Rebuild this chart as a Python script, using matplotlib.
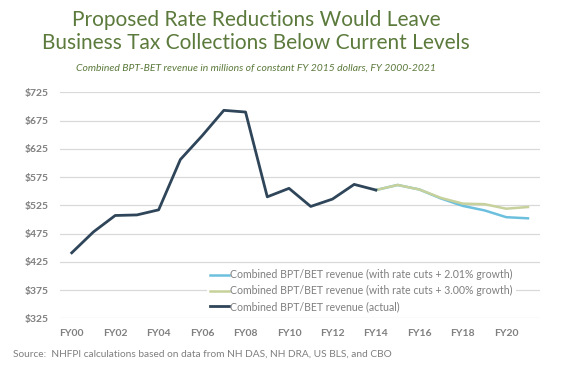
import matplotlib.pyplot as plt
import matplotlib

matplotlib.rcParams.update({'font.family': ['Lato', 'DejaVu Sans']})

years = list(range(2000, 2022))
tick_labels = ['FY00', 'FY02', 'FY04', 'FY06', 'FY08', 'FY10', 'FY12', 'FY14', 'FY16', 'FY18', 'FY20']

actual_years = list(range(2000, 2015))
actual = [441, 478, 507, 508, 517, 606, 648, 693, 690, 540, 555, 523, 536, 562, 552]

proj_years = list(range(2014, 2022))
growth_201 = [552, 561, 553, 537, 524, 516, 504, 502]
growth_300 = [552, 561, 553, 538, 528, 527, 519, 522]

c_actual = '#2f4559'
c_blue = '#6cc0de'
c_green = '#c6d19c'
c_title = '#5b7a3c'
c_text = '#7f7f7f'

fig = plt.figure(figsize=(5.75, 3.75), dpi=100)
ax = fig.add_axes([0.104, 0.151, 0.835, 0.603])

ax.plot(proj_years, growth_201, color=c_blue, lw=1.8,
        label='Combined BPT/BET revenue (with rate cuts + 2.01% growth)')
ax.plot(proj_years, growth_300, color=c_green, lw=1.8,
        label='Combined BPT/BET revenue (with rate cuts + 3.00% growth)')
ax.plot(actual_years, actual, color=c_actual, lw=2,
        label='Combined BPT/BET revenue (actual)')

ax.set_xlim(1999.45, 2021.55)
ax.set_ylim(325, 725)
ax.set_yticks(range(325, 726, 50))
ax.set_yticklabels(['${}'.format(v) for v in range(325, 726, 50)])
ax.set_xticks(years[::2])
ax.set_xticklabels(tick_labels)
ax.grid(axis='y', color='#d9d9d9', lw=0.9)
ax.set_axisbelow(True)
for s in ax.spines.values():
    s.set_visible(False)
ax.tick_params(length=0, colors=c_text, labelsize=7.5, pad=8)
for t in ax.get_xticklabels() + ax.get_yticklabels():
    t.set_fontweight('bold')

leg = ax.legend(loc='upper left', bbox_to_anchor=(0.36, 0.29), bbox_transform=fig.transFigure,
                frameon=True, facecolor='white', edgecolor='none', framealpha=1,
                fontsize=7.6, handlelength=1.8, handletextpad=0.1, labelspacing=0.45,
                borderpad=0.3, borderaxespad=0)
for t in leg.get_texts():
    t.set_color(c_text)

fig.text(0.445, 0.915, 'Proposed Rate Reductions Would Leave\nBusiness Tax Collections Below Current Levels',
         ha='center', va='center', fontsize=15, color=c_title, linespacing=1.2)
fig.text(0.445, 0.818, 'Combined BPT-BET revenue in millions of constant FY 2015 dollars, FY 2000-2021',
         ha='center', va='center', fontsize=7.5, color=c_title, style='italic')
fig.text(0.022, 0.056, 'Source:  NHFPI calculations based on data from NH DAS, NH DRA, US BLS, and CBO',
         ha='left', va='center', fontsize=7.3, color=c_text)

fig.savefig('out.png', dpi=100)
